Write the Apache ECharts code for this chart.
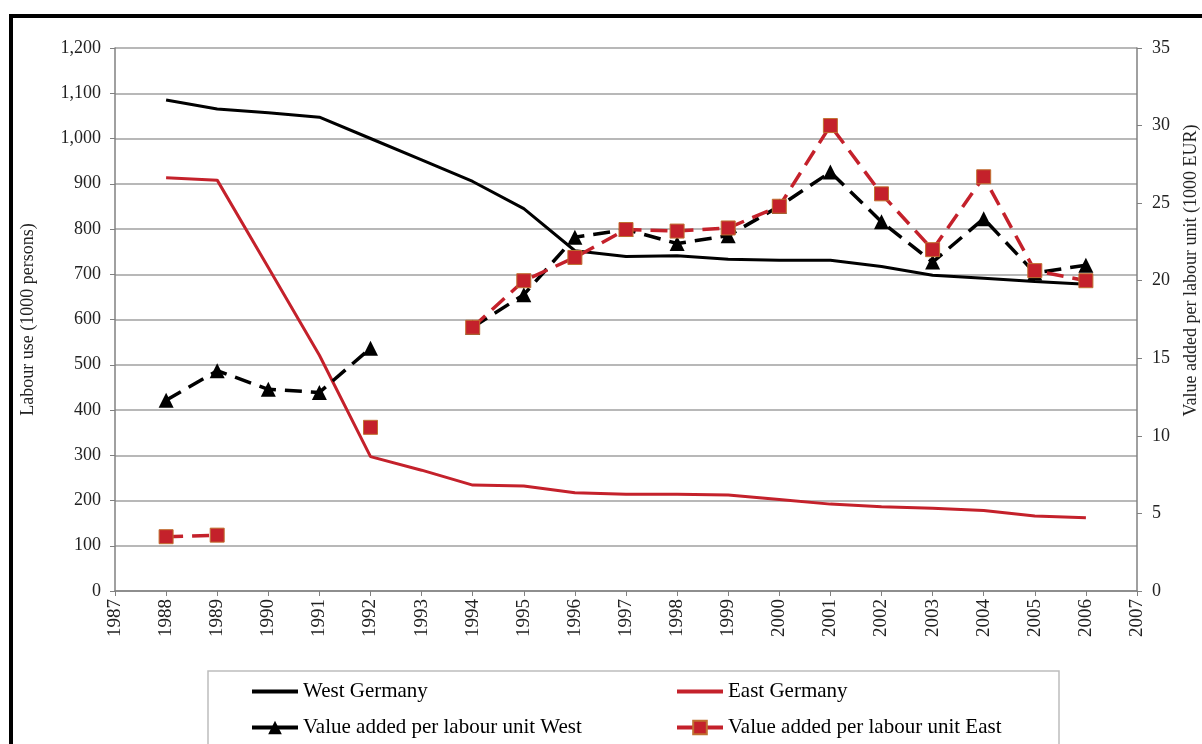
<!DOCTYPE html>
<html>
<head>
<meta charset="utf-8">
<script src="https://cdn.jsdelivr.net/npm/echarts@6/dist/echarts.min.js"></script>
<style>html,body{margin:0;padding:0;background:#fff}#c{width:1202px;height:744px}</style>
</head>
<body>
<div id="c"></div>
<script>
var years = [1988,1989,1990,1991,1992,1993,1994,1995,1996,1997,1998,1999,2000,2001,2002,2003,2004,2005,2006];
var westLabour = [1085,1065,1057,1047,1000,953,905,845,752,739,741,733,731,731,717,698,691,684,678];
var eastLabour = [913,908,715,521,297,267,234,232,217,214,214,212,202,192,186,183,178,166,162];
var vaWest = [12.3,14.2,13.0,12.8,15.65,null,17.0,19.1,22.8,23.3,22.4,22.9,24.8,27.0,23.8,21.2,24.0,20.5,21.0];
var vaEast = [3.5,3.6,null,null,10.55,null,17.0,20.0,21.5,23.3,23.2,23.4,24.8,30.0,25.6,22.0,26.7,20.65,20.0];
var seriesNames = ['West Germany','East Germany','Value added per labour unit West','Value added per labour unit East'];

function pairs(arr){ return years.map(function(y,i){ return [y, arr[i]]; }); }
var RED = '#c4212b';
var FONT = 'Liberation Serif';
var hideSym = {color:'rgba(0,0,0,0)', borderWidth:0, borderColor:'rgba(0,0,0,0)'};

var chart = echarts.init(document.getElementById('c'));
chart.setOption({
  animation: false,
  backgroundColor: '#fff',
  textStyle: {fontFamily: FONT},
  grid: {left: 115, right: 65, top: 48, bottom: 153, outerBoundsMode: 'none', containLabel: false},
  graphic: [
    {type:'rect', shape:{x:11, y:16, width:1200, height:740}, style:{fill:'none', stroke:'#000', lineWidth:4}, z:-1},
    {type:'rect', shape:{x:208, y:671, width:851, height:100}, style:{fill:'none', stroke:'#bdbdbd', lineWidth:1.5}, z:-1}
  ],
  legend: [
    {orient:'vertical', left:245, top:676, itemGap:15, itemWidth:46, itemHeight:17,
     data:[{name:seriesNames[0], itemStyle:hideSym}, seriesNames[2]],
     textStyle:{fontFamily:FONT, fontSize:21, color:'#000'}, lineStyle:{type:'solid', width:4}},
    {orient:'vertical', left:670, top:676, itemGap:15, itemWidth:46, itemHeight:17,
     data:[{name:seriesNames[1], itemStyle:hideSym}, seriesNames[3]],
     textStyle:{fontFamily:FONT, fontSize:21, color:'#000'}, lineStyle:{type:'solid', width:4}}
  ],
  xAxis: {
    type:'value', min:1987, max:2007, interval:1,
    axisLine:{lineStyle:{color:'#808080', width:1.5}},
    axisTick:{show:true, length:5, lineStyle:{color:'#808080'}},
    axisLabel:{rotate:90, fontFamily:FONT, fontSize:19, color:'#222', margin:8, formatter:function(v){return String(v);}},
    splitLine:{show:false}
  },
  yAxis: [
    {type:'value', min:0, max:1200, interval:100, position:'left',
     name:'Labour use (1000 persons)', nameLocation:'middle', nameGap:78,
     nameTextStyle:{fontFamily:FONT, fontSize:18, color:'#222'},
     axisLine:{show:true, lineStyle:{color:'#808080', width:1.5}},
     axisTick:{show:true, length:5, lineStyle:{color:'#808080'}},
     axisLabel:{fontFamily:FONT, fontSize:18, color:'#222', margin:14,
       formatter:function(v){return v.toLocaleString('en-US');}},
     splitLine:{lineStyle:{color:'#a0a0a0', width:1.5}}
    },
    {type:'value', min:0, max:35, interval:5, position:'right',
     name:'Value added per labour unit (1000 EUR)', nameLocation:'middle', nameGap:45,
     nameTextStyle:{fontFamily:FONT, fontSize:18, color:'#222', padding:[0,0,0,98]},
     axisLine:{show:true, lineStyle:{color:'#808080', width:1.5}},
     axisTick:{show:true, length:5, lineStyle:{color:'#808080'}},
     axisLabel:{fontFamily:FONT, fontSize:18, color:'#222', margin:15},
     splitLine:{show:false}
    }
  ],
  series: [
    {name:seriesNames[0], type:'line', yAxisIndex:0, data:pairs(westLabour), symbol:'none',
     lineStyle:{color:'#000', width:3}, itemStyle:{color:'#000'}, z:2},
    {name:seriesNames[1], type:'line', yAxisIndex:0, data:pairs(eastLabour), symbol:'none',
     lineStyle:{color:RED, width:3}, itemStyle:{color:RED}, z:3},
    {name:seriesNames[2], type:'line', yAxisIndex:1, data:pairs(vaWest), connectNulls:false,
     symbol:'triangle', symbolSize:15, showSymbol:true, showAllSymbol:true,
     lineStyle:{color:'#000', width:3.5, type:[17,9]}, itemStyle:{color:'#000'}, z:4},
    {name:seriesNames[3], type:'line', yAxisIndex:1, data:pairs(vaEast), connectNulls:false,
     symbol:'rect', symbolSize:14, showSymbol:true, showAllSymbol:true,
     lineStyle:{color:RED, width:3.5, type:[17,9]}, itemStyle:{color:RED, borderColor:'#c07030', borderWidth:1}, z:5}
  ]
});
</script>
</body>
</html>
